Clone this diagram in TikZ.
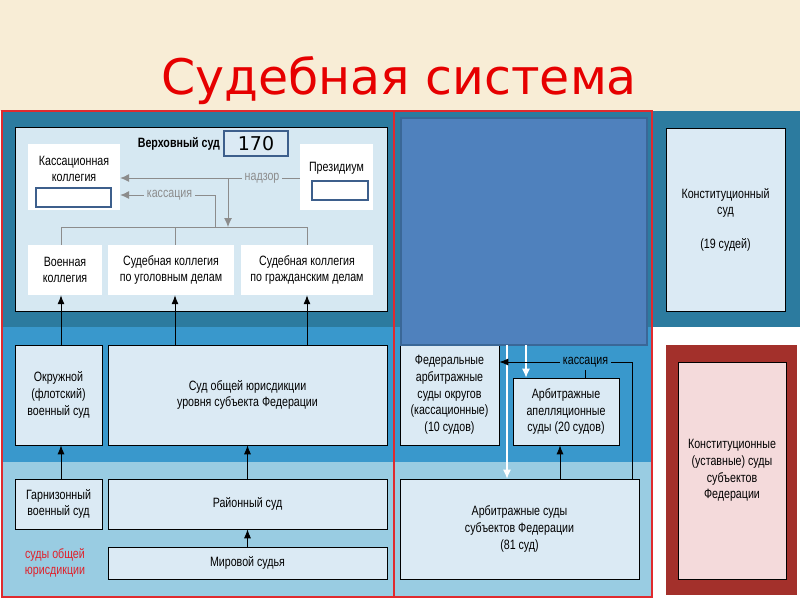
\documentclass[tikz,border=0pt]{standalone}
\usepackage{fontspec}
\setmainfont{Liberation Sans}[FakeStretch=0.79]
\newfontfamily\titlefont{DejaVu Sans}
\usepackage{xcolor}
\usetikzlibrary{arrows.meta, positioning}

\definecolor{bgbeige}{HTML}{F8EDD6}
\definecolor{topteal}{HTML}{2C7B9F}
\definecolor{midblue}{HTML}{3998CC}
\definecolor{lowblue}{HTML}{99CCE2}
\definecolor{boxfill}{HTML}{DBEAF4}
\definecolor{supfill}{HTML}{D6E8F2}
\definecolor{ofblue}{HTML}{4F81BD}
\definecolor{ofbluedark}{HTML}{3A6797}
\definecolor{framered}{HTML}{E02A2E}
\definecolor{darkred}{HTML}{A3302B}
\definecolor{pinkfill}{HTML}{F4DADB}
\definecolor{linegray}{HTML}{8C8C8C}
\definecolor{blankblue}{HTML}{3D5F8C}
\definecolor{titlered}{HTML}{E60000}
\definecolor{labelred}{HTML}{E0202A}

\newcommand\txt{\fontsize{13.5}{16.7}\selectfont}

\tikzset{
    court/.style={draw=black, line width=0.6pt, fill=boxfill, inner sep=0pt, align=center, font=\txt},
    whitebox/.style={fill=white, inner sep=0pt, align=center, font=\txt},
    blankbox/.style={draw=blankblue, line width=1.6pt, fill=white, inner sep=0pt},
    arr/.style={-{Latex[length=9pt,width=7pt]}, line width=0.9pt},
    gline/.style={draw=linegray, line width=0.9pt},
    garr/.style={gline, -{Latex[length=9pt,width=8pt]}},
    warr/.style={draw=white, line width=1.2pt, -{Latex[length=9pt,width=8pt]}},
}

\begin{document}
\begin{tikzpicture}[x=1pt, y=-1pt]
    \useasboundingbox (0,0) rectangle (800,600);
    \fill[white] (0,0) rectangle (800,600);
    \fill[bgbeige] (0,0) rectangle (800,111);

    % Title
    \node[font=\titlefont\fontsize{49}{55}\selectfont, text=titlered, anchor=base] (title) at (399,94) {Судебная система};

    % Bands
    \fill[topteal] (2,111) rectangle (800,327);
    \fill[midblue] (2,327) rectangle (652,462);
    \fill[lowblue] (2,462) rectangle (652,597);
    \draw[framered, line width=1.8pt] (2,111) rectangle (394,597);
    \draw[framered, line width=1.8pt] (394,111) rectangle (652,597);

    % Supreme court
    \node[draw=black, line width=0.8pt, fill=supfill, minimum width=372pt, minimum height=184pt, inner sep=0pt] (sup) at (201,219) {};
    \node[draw=blankblue, line width=1.6pt, fill=boxfill, minimum width=64pt, minimum height=25pt, inner sep=0pt, font=\titlefont\fontsize{19}{22}\selectfont] (num) at (256,143.5) {170};
    \node[font=\txt\bfseries, inner sep=0pt, left=3pt of num] (vs) {Верховный суд};

    \node[whitebox, minimum width=92pt, minimum height=66pt] (kass) at (74,177) {};
    \node[font=\txt, align=center, inner sep=0pt] (kasst) at (74,169) {Кассационная\\коллегия};
    \node[blankbox, minimum width=75pt, minimum height=19pt] (kassb) at (73.5,197.5) {};

    \node[whitebox, minimum width=73pt, minimum height=66pt] (prez) at (336.5,177) {};
    \node[font=\txt, inner sep=0pt] (prezt) at (336.5,168) {Президиум};
    \node[blankbox, minimum width=56pt, minimum height=19pt] (prezb) at (340,190.5) {};

    \foreach \n/\x/\w/\t in {voen/65/74/{Военная\\коллегия},
                             ugol/171/126/{Судебная коллегия\\по уголовным делам},
                             grazh/307/132/{Судебная коллегия\\по гражданским делам}} {
        \node[whitebox, minimum width=\w pt, minimum height=50pt] (\n) at (\x,270) {\t};
    }

    % Supervision and cassation lines
    \coordinate (nz) at (228,178);
    \coordinate (kz) at (215,195);
    \coordinate (b1) at (61,227);
    \coordinate (b2) at (175,227);
    \coordinate (b3) at (307,227);
    \draw[garr] (prez.west |- nz) -- node[pos=0.21, fill=supfill, text=linegray, font=\txt, inner sep=3pt] (nzt) {надзор} (kass.east |- nz);
    \draw[garr] (nz) -- (nz |- b1);
    \draw[garr] (kz |- b1) -- (kz) -- node[pos=0.48, fill=supfill, text=linegray, font=\txt, inner sep=3pt] (kzt) {кассация} (kass.east |- kz);
    \draw[gline] (b1) -- (b3);
    \foreach \i/\n in {1/voen, 2/ugol, 3/grazh} {
        \draw[gline] (b\i) -- (b\i |- \n.north);
    }

    % General jurisdiction courts
    \node[court, minimum width=87pt, minimum height=100pt] (okr) at (58.5,395) {Окружной\\(флотский)\\военный суд};
    \node[court, minimum width=279pt, minimum height=100pt] (subj) at (247.5,395) {Суд общей юрисдикции\\уровня субъекта Федерации};
    \node[court, minimum width=87pt, minimum height=50pt] (garn) at (58.5,504) {Гарнизонный\\военный суд};
    \node[court, minimum width=279pt, minimum height=50pt] (rayon) at (247.5,504) {Районный суд};
    \node[court, minimum width=279pt, minimum height=32pt] (mir) at (247.5,563) {Мировой судья};
    \node[text=labelred, font=\txt, align=center] (obsh) at (55,563) {суды общей\\юрисдикции};

    \foreach \i/\n/\m in {1/okr/voen, 2/subj/ugol, 3/subj/grazh} {
        \draw[arr] (b\i |- \n.north) -- (b\i |- \m.south);
    }
    \draw[arr] (b1 |- garn.north) -- (b1 |- okr.south);
    \draw[arr] (rayon.north) -- (subj.south);
    \draw[arr] (mir.north) -- (rayon.south);

    % Arbitration courts
    \node[court, minimum width=99pt, minimum height=100pt] (fed) at (449.5,395) {Федеральные\\арбитражные\\суды округов\\(кассационные)\\(10 судов)};
    \node[draw=ofbluedark, line width=2pt, fill=ofblue, minimum width=246pt, minimum height=227pt, inner sep=0pt] (blue) at (524,231.5) {};
    \node[court, minimum width=106pt, minimum height=67pt] (apel) at (566,411.5) {Арбитражные\\апелляционные\\суды (20 судов)};
    \node[court, minimum width=239pt, minimum height=100pt] (arbs) at (519.5,529) {Арбитражные суды\\субъектов Федерации\\(81 суд)};

    \coordinate (w1) at (507,345);
    \coordinate (w2) at (526,345);
    \coordinate (kc) at (632,362);
    \coordinate (a1) at (560,479);
    \draw[warr] (w1) -- (w1 |- arbs.north);
    \draw[warr] (w2) -- (w2 |- apel.north);
    \draw[arr] (arbs.north -| kc) -- (kc) -- node[pos=0.35, fill=midblue, font=\txt, inner sep=3pt] (kct) {кассация} (fed.east |- kc);
    \draw[line width=0.5pt] (kct.south) -- (kct.south |- apel.north);
    \draw[arr] (a1) -- (a1 |- apel.south);

    % Constitutional courts
    \node[court, minimum width=119pt, minimum height=183pt] (kons) at (725.5,219.5) {Конституционный\\суд\\[16.7pt](19 судей)};
    \node[fill=darkred, minimum width=131pt, minimum height=250pt, inner sep=0pt] (ksframe) at (731.5,470) {};
    \node[court, fill=pinkfill, minimum width=108pt, minimum height=217pt] (ks) at (732,470.5) {Конституционные\\(уставные) суды\\субъектов\\Федерации};
\end{tikzpicture}
\end{document}
